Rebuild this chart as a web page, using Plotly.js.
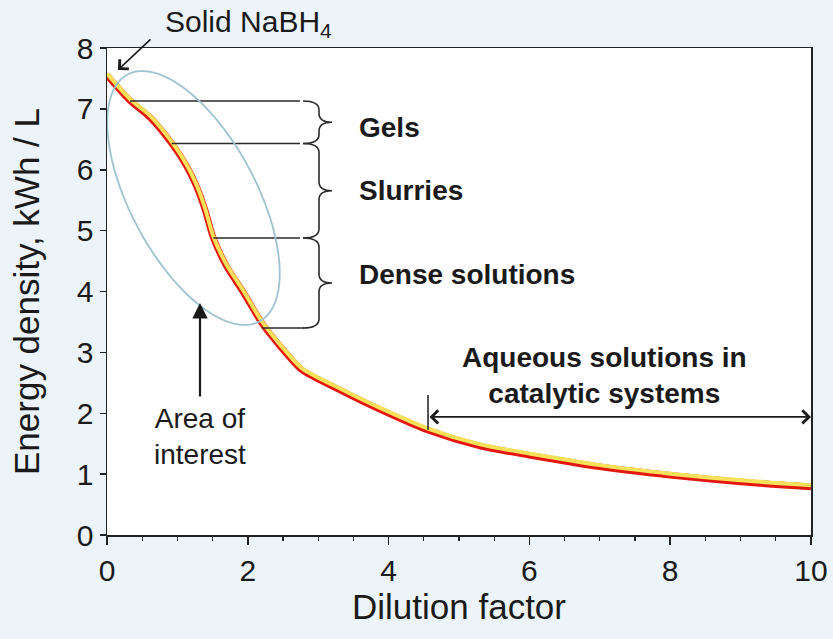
<!DOCTYPE html>
<html>
<head>
<meta charset="utf-8">
<script src="https://cdn.plot.ly/plotly-3.0.1.min.js"></script>
<style>
  html, body { margin: 0; padding: 0; background: #ecf4f9; }
  #chart { width: 833px; height: 639px; }
</style>
</head>
<body>
<div id="chart"></div>
<script>
// ---- data ----
const dilution = [0, 0.33, 0.61, 0.92, 1.13, 1.27, 1.39, 1.51, 1.70, 1.94, 2.20, 2.46, 2.77, 3.31, 3.88, 4.56, 5.30, 6.00, 7.00, 8.00, 9.00, 10.0];
const energyDensity = [7.55, 7.13, 6.86, 6.43, 6.06, 5.73, 5.35, 4.88, 4.41, 3.98, 3.48, 3.10, 2.71, 2.38, 2.06, 1.72, 1.46, 1.31, 1.12, 0.98, 0.87, 0.79];
const xTickVals = [0, 2, 4, 6, 8, 10];
const yTickVals = [0, 1, 2, 3, 4, 5, 6, 7, 8];
// region boundaries (energy density) and where they meet the curve
const boundaryY = [7.13, 6.43, 4.88, 3.40];
const boundaryX = [0.33, 0.92, 1.51, 2.20];
const regionLabels = ['Gels', 'Slurries', 'Dense solutions'];

// ---- geometry helpers (pixel -> data, for annotation shapes only) ----
const L = 107, R = 22, T = 48, B = 104, W = 833, H = 639;
const pw = W - L - R, ph = H - T - B;
const px2x = p => (p - L) / pw * 10;
const py2y = p => (H - B - p) / ph * 8;
const P = (px, py) => px2x(px).toFixed(4) + ',' + py2y(py).toFixed(4);

const FONT = 'Arial, "Liberation Sans", Helvetica, sans-serif';
const ink = '#1a1a1a';

// ellipse "Area of interest"
function ellipsePath(cx, cy, a, b, deg) {
  const th = deg * Math.PI / 180;
  let d = '';
  for (let i = 0; i <= 96; i++) {
    const t = i / 96 * 2 * Math.PI;
    const ex = a * Math.cos(t), ey = b * Math.sin(t);
    const px = cx + ex * Math.cos(th) - ey * Math.sin(th);
    const py = cy + ex * Math.sin(th) + ey * Math.cos(th);
    d += (i === 0 ? 'M' : 'L') + P(px, py);
  }
  return d + 'Z';
}
// curly brace in pixel geometry
function bracePath(top, bot, xl, xb, xt, r) {
  const mid = (top + bot) / 2;
  return 'M' + P(xl, top) + ' Q' + P(xb, top) + ' ' + P(xb, top + r) +
         ' L' + P(xb, mid - r) + ' Q' + P(xb, mid) + ' ' + P(xt, mid) +
         ' Q' + P(xb, mid) + ' ' + P(xb, mid + r) +
         ' L' + P(xb, bot - r) + ' Q' + P(xb, bot) + ' ' + P(xl, bot);
}

const shapes = [];
// horizontal boundary lines
const lineEnd = px2x(300);
boundaryY.forEach((yv, i) => {
  shapes.push({type: 'line', xref: 'x', yref: 'y', x0: boundaryX[i], x1: (i === 3 ? px2x(304) : lineEnd), y0: yv, y1: yv,
               line: {color: '#2a2a2a', width: 1.6}});
});
// braces between consecutive boundaries
const ypx = v => H - B - v / 8 * ph;
for (let i = 0; i < 3; i++) {
  shapes.push({type: 'path', xref: 'x', yref: 'y',
    path: bracePath(ypx(boundaryY[i]), ypx(boundaryY[i + 1]), 303, 319, 332, 9),
    line: {color: '#2a2a2a', width: 1.6}});
}
// ellipse
shapes.push({type: 'path', xref: 'x', yref: 'y', path: ellipsePath(193.5, 198, 140, 63, 61.9),
             line: {color: '#9fc4cf', width: 1.8}});
// small vertical marker at start of aqueous range
shapes.push({type: 'line', xref: 'x', yref: 'y', x0: 4.56, x1: 4.56, y0: 1.73, y1: 2.30,
             line: {color: '#2a2a2a', width: 1.6}});
// arrows drawn as shapes (shafts) + annotation heads
const boldFont = {family: FONT, size: 28, color: ink};
const annotations = [
  {x: px2x(357), y: 6.70, xref: 'x', yref: 'y', text: '<b>' + regionLabels[0] + '</b>', showarrow: false, xanchor: 'left', yanchor: 'middle', font: boldFont},
  {x: px2x(357), y: 5.66, xref: 'x', yref: 'y', text: '<b>' + regionLabels[1] + '</b>', showarrow: false, xanchor: 'left', yanchor: 'middle', font: boldFont},
  {x: px2x(357), y: 4.28, xref: 'x', yref: 'y', text: '<b>' + regionLabels[2] + '</b>', showarrow: false, xanchor: 'left', yanchor: 'middle', font: boldFont},
  {x: 7.06, y: 2.62, xref: 'x', yref: 'y', text: '<b>Aqueous solutions in<br>catalytic systems</b>', showarrow: false, xanchor: 'center', yanchor: 'middle', align: 'center', font: boldFont},
  {x: px2x(163), y: py2y(24) / 8, xref: 'x', yref: 'paper', text: 'Solid NaBH<sub>4</sub>', showarrow: false, xanchor: 'left', yanchor: 'middle', font: {family: FONT, size: 30, color: ink}},
  {x: px2x(200), y: py2y(436), xref: 'x', yref: 'y', text: 'Area of<br>interest', showarrow: false, xanchor: 'center', yanchor: 'middle', align: 'center', font: {family: FONT, size: 28, color: ink}},
  // arrows
  {x: px2x(118), y: py2y(70), ax: px2x(152), ay: py2y(38), xref: 'x', yref: 'y', axref: 'x', ayref: 'y', text: '', showarrow: true,
   arrowhead: 4, arrowsize: 1.6, arrowwidth: 1.6, arrowcolor: ink},
  {x: px2x(200), y: py2y(303), ax: px2x(200), ay: py2y(398), xref: 'x', yref: 'y', axref: 'x', ayref: 'y', text: '', showarrow: true,
   arrowhead: 2, arrowsize: 1.4, arrowwidth: 2.2, arrowcolor: ink},
  {x: 10, y: 1.94, ax: 4.56, ay: 1.94, xref: 'x', yref: 'y', axref: 'x', ayref: 'y', text: '', showarrow: true,
   arrowhead: 4, startarrowhead: 4, arrowside: 'end+start', arrowsize: 1.6, startarrowsize: 1.6, arrowwidth: 1.6, arrowcolor: ink}
];

const traces = [
  {x: dilution, y: energyDensity, yaxis: 'y2', mode: 'lines', line: {color: '#f6e25a', width: 4, shape: 'spline', smoothing: 0.7}, hoverinfo: 'skip', showlegend: false},
  {x: dilution, y: energyDensity, mode: 'lines', line: {color: '#e3170f', width: 6.5, shape: 'spline', smoothing: 0.7}, showlegend: false}
];

const axisCommon = {
  showline: true, linecolor: '#222', linewidth: 1.5, mirror: true,
  showgrid: false, zeroline: false, ticks: 'outside', tickcolor: '#222', tickwidth: 1.5,
  tickfont: {family: FONT, size: 30, color: ink}, automargin: false
};

const layout = {
  width: W, height: H, autosize: false,
  margin: {l: L, r: R, t: T, b: B, pad: 0},
  paper_bgcolor: '#ecf4f9', plot_bgcolor: '#fefefe',
  showlegend: false,
  xaxis: Object.assign({}, axisCommon, {
    range: [0, 10], tickmode: 'array', tickvals: xTickVals, ticktext: xTickVals.map(String), ticklen: 8,
    minor: {dtick: 0.5, tick0: 0, ticks: 'outside', ticklen: 4, tickcolor: '#222', tickwidth: 1.2, showgrid: false},
    title: {text: 'Dilution factor', font: {family: FONT, size: 35, color: ink}, standoff: 4}
  }),
  yaxis: Object.assign({}, axisCommon, {
    range: [0, 8], tickmode: 'array', tickvals: yTickVals, ticktext: yTickVals.map(String), ticklen: 6,
    title: {text: 'Energy density, kWh / L', font: {family: FONT, size: 35, color: ink}, standoff: 26}
  }),
  yaxis2: {overlaying: 'y', range: [-0.028, 7.972], visible: false, showgrid: false, zeroline: false},
  shapes: shapes,
  annotations: annotations
};

Plotly.newPlot('chart', traces, layout, {displayModeBar: false, staticPlot: true});
</script>
</body>
</html>
